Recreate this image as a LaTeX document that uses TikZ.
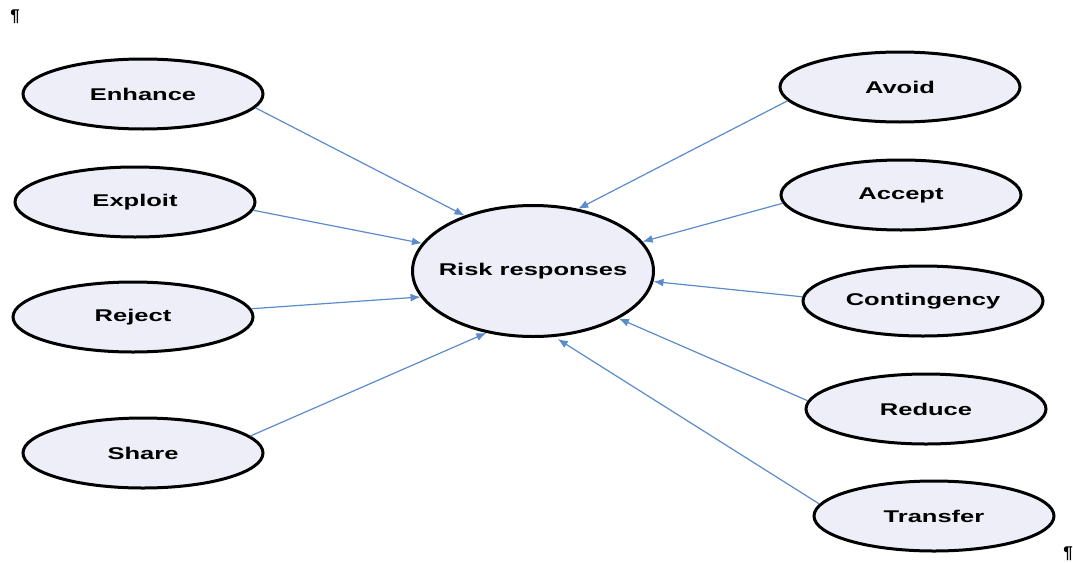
\documentclass[tikz,border=0pt]{standalone}
\usepackage{fontspec}
\setmainfont{Liberation Sans}
\newfontfamily\lblfont{Liberation Sans}[FakeStretch=1.5]
\usetikzlibrary{shapes.geometric,arrows.meta}
\definecolor{ellfill}{HTML}{EDEEF7}
\definecolor{arrblue}{HTML}{5B8BCB}
\tikzset{
  resp/.style={ellipse, draw=black, line width=3pt, fill=ellfill,
    minimum width=240pt, minimum height=70pt, inner sep=0pt,
    font=\lblfont\bfseries\fontsize{17}{20}\selectfont},
  centre/.style={resp, minimum width=241pt, minimum height=131pt},
  link/.style={draw=arrblue, line width=1.2pt, -{Latex[length=10pt,width=8pt]}},
  pil/.style={font=\bfseries\fontsize{17}{19}\selectfont, inner sep=0pt},
}
\begin{document}
\begin{tikzpicture}[x=1pt,y=-1pt]
\useasboundingbox (0,0) rectangle (1073,562);
\node[pil] (p1) at (15,17) {¶};
\node[pil] (p2) at (1068,554) {¶};

\node[centre] (rr) at (533,271) {\makebox[0pt][c]{Risk responses}};

\node[resp] (enh) at (143,94) {Enhance};
\node[resp] (exp) at (135,202) {Exploit};
\node[resp] (rej) at (133,317) {Reject};
\node[resp] (sha) at (143,453) {Share};

\node[resp] (avo) at (900,87) {Avoid};
\node[resp] (acc) at (901,195) {Accept};
\node[resp] (con) at (923,301) {Contingency};
\node[resp] (red) at (926,409) {Reduce};
\node[resp] (tra) at (934,516) {Transfer};

\draw[link] (enh.-7) -- (rr.141);
\draw[link] (exp.-4) -- (rr.166);
\draw[link] (rej.4) -- (rr.193);
\draw[link] (sha.9) -- (rr.233);

\draw[link] (avo.187) -- (rr.54);
\draw[link] (acc.184) -- (rr.15);
\draw[link] (con.178) -- (rr.-5);
\draw[link] (red.176) -- (rr.-29);
\draw[link, shorten >=4pt] (tra.174) -- (rr.-72);
\end{tikzpicture}
\end{document}
